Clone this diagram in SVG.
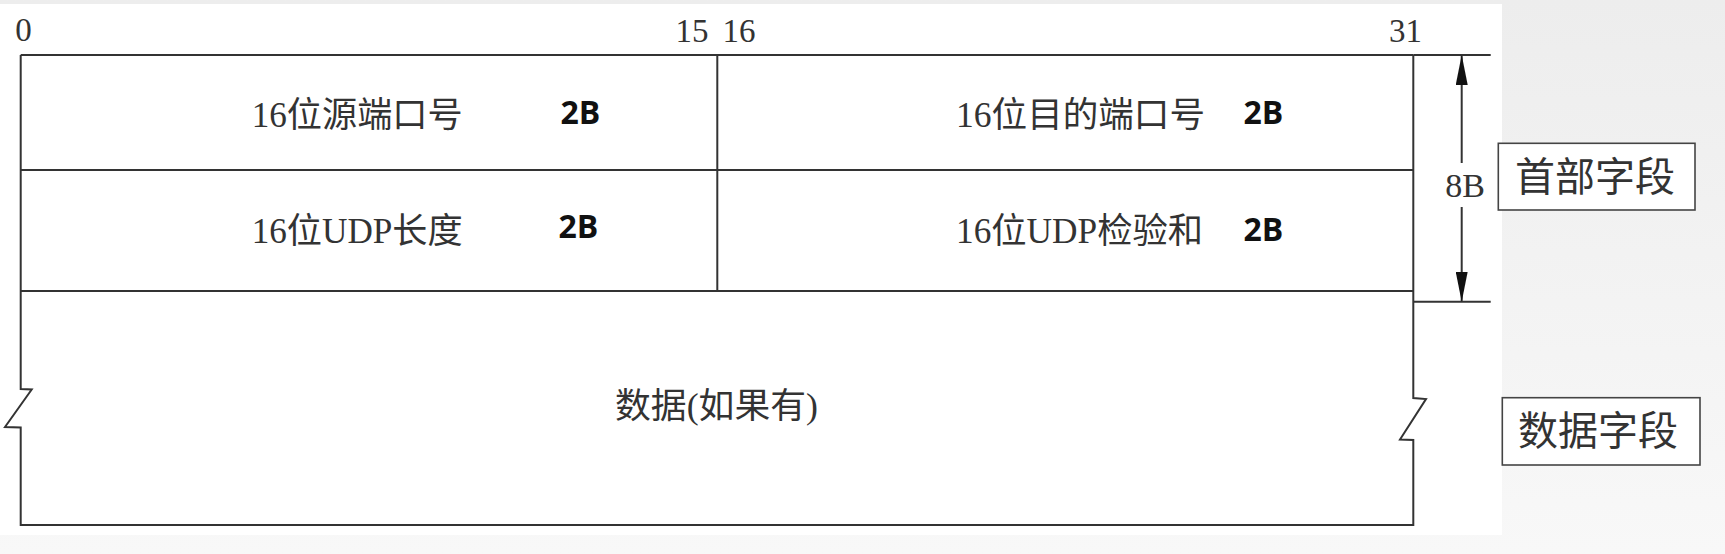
<svg xmlns="http://www.w3.org/2000/svg" width="1725" height="554" viewBox="0 0 1725 554">
<style>
.ln{fill:none;stroke:#333;stroke-width:2;stroke-linejoin:miter}
.lbl{font-family:"Liberation Serif","Noto Sans CJK SC",serif;font-size:35px;fill:#333}
.num{font-family:"Liberation Serif",serif;font-size:33px;fill:#333}
.bold{font-family:"Open Sans","Liberation Sans",sans-serif;font-weight:700;font-size:32px;fill:#111}
.box{fill:#fff;stroke:#444;stroke-width:1.6}
.boxt{font-family:"Noto Sans CJK SC",sans-serif;font-size:40px;fill:#333;text-anchor:middle}
</style>
<defs>
<linearGradient id="bg" x1="0" y1="0" x2="0" y2="1">
<stop offset="0" stop-color="#ededed"/>
<stop offset="1" stop-color="#f8f8f8"/>
</linearGradient>
<marker id="ah" markerUnits="userSpaceOnUse" markerWidth="30" markerHeight="12" refX="30" refY="6" orient="auto">
<path d="M0,0 L30,6 L0,12 Z" fill="#111"/>
</marker>
</defs>
<rect x="0" y="0" width="1725" height="554" fill="url(#bg)"/>
<rect x="0" y="4" width="1502" height="531" fill="#fff"/>

<g id="bit-labels">
<text class="num" x="23.5" y="41" text-anchor="middle">0</text>
<text class="num" x="708.5" y="41.5" text-anchor="end">15</text>
<text class="num" x="722.5" y="41.5">16</text>
<text class="num" x="1405.5" y="41.5" text-anchor="middle">31</text>
</g>

<g id="frame">
<path class="ln" d="M20.7,55 H1413.3 M20.7,170 H1413.3 M20.7,291 H1413.3 M717.3,55 V291"/>
<path class="ln" d="M20.7,55 V389 L31.7,389.5 L5,427 L20.7,427.5 V525 H1413.3 V440 L1400,439.5 L1426,399 L1413.3,398 V55"/>
</g>

<g id="src-port">
<text class="lbl" x="251.7" y="127" textLength="211" lengthAdjust="spacingAndGlyphs">16位源端口号</text>
<text class="bold" x="560.5" y="123.5">2B</text>
</g>
<g id="dst-port">
<text class="lbl" x="956" y="127" textLength="249" lengthAdjust="spacingAndGlyphs">16位目的端口号</text>
<text class="bold" x="1243.5" y="123.5">2B</text>
</g>
<g id="udp-length">
<text class="lbl" x="251.7" y="243" textLength="211" lengthAdjust="spacingAndGlyphs">16位UDP长度</text>
<text class="bold" x="558.5" y="238">2B</text>
</g>
<g id="udp-checksum">
<text class="lbl" x="956" y="243" textLength="247" lengthAdjust="spacingAndGlyphs">16位UDP检验和</text>
<text class="bold" x="1243.5" y="241">2B</text>
</g>
<g id="data">
<text class="lbl" x="615" y="418" textLength="203" lengthAdjust="spacingAndGlyphs">数据(如果有)</text>
</g>

<g id="connectors">
<path class="ln" d="M1413.3,55 H1490.7 M1413.3,301.7 H1490.7"/>
<path class="ln" d="M1461.7,163 V55" marker-end="url(#ah)"/>
<path class="ln" d="M1461.7,207 V301.7" marker-end="url(#ah)"/>
<text class="num" x="1465" y="196.5" text-anchor="middle" style="font-size:34px">8B</text>
</g>

<g id="header-label">
<rect class="box" x="1498.3" y="143.3" width="196.7" height="66.7"/>
<text class="boxt" x="1595" y="191">首部字段</text>
</g>
<g id="data-label">
<rect class="box" x="1502.3" y="397.7" width="197.7" height="67.3"/>
<text class="boxt" x="1598" y="445">数据字段</text>
</g>
</svg>
